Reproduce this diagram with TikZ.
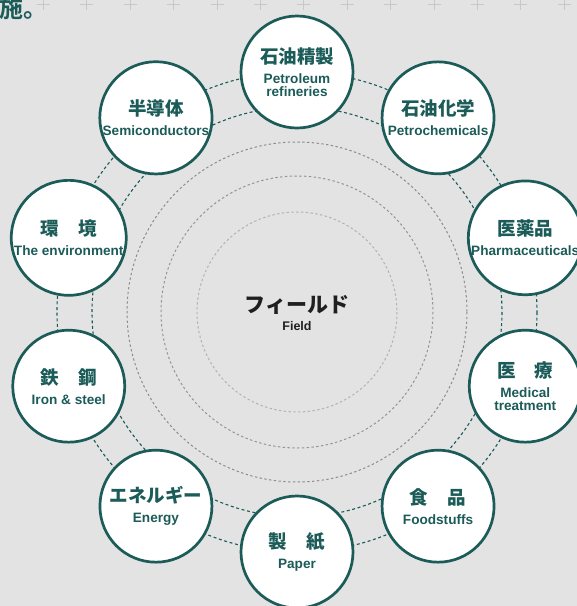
\documentclass[tikz,border=0pt]{standalone}
\usepackage{fontspec}
\usetikzlibrary{calc}
\setmainfont{Liberation Sans}
\newfontfamily\jpfont{Noto Sans CJK JP Bold}
\definecolor{tealc}{HTML}{1B5B58}
\definecolor{bgc}{HTML}{E3E3E3}
\definecolor{plusc}{HTML}{C8C8C8}
\newcommand\nlab[2]{{\jpfont\fontsize{18.5}{19}\selectfont #1}\\[7pt]#2}
\begin{document}
\begin{tikzpicture}[x=1pt,y=-1pt,
  fieldnode/.style={circle, draw=tealc, fill=white, line width=2.7pt,
    minimum size=112pt, inner sep=0pt, align=center, text=tealc,
    font=\bfseries\fontsize{13.6}{13}\selectfont},
  darkring/.style={draw=tealc, line width=1.1pt, dash pattern=on 3pt off 2.6pt},
  grayring/.style={line width=1pt, dash pattern=on 2.4pt off 2.4pt},
  plussign/.style={draw=plusc, line width=0.9pt}]
\useasboundingbox (0,0) rectangle (577,606);
\clip (0,0) rectangle (577,606);
\fill[bgc] (0,0) rectangle (577,606);
% plus marks along the top
\foreach \k in {1,...,13}{
  \draw[plussign] (43.4*\k-6.5,4) -- (43.4*\k+6.5,4);
  \draw[plussign] (43.4*\k,-3) -- (43.4*\k,10);
}
\node[anchor=base west, inner sep=0pt, text=tealc, font=\jpfont\fontsize{24}{24}\selectfont] (top) at (-1,17) {施。};
\coordinate (c) at (297,312);
% rings
\draw[darkring] (c) circle[radius=240];
\draw[darkring] (c) circle[radius=205];
\draw[grayring, draw=black!45] (c) circle[radius=170];
\draw[grayring, draw=black!42] (c) circle[radius=136];
\draw[grayring, draw=black!30] (c) circle[radius=100];
% centre
\node[align=center, text=black!88, font=\bfseries\fontsize{12.5}{13}\selectfont] (field) at (297,313)
  {{\jpfont\fontsize{21}{22}\selectfont フィールド}\\[5pt]Field};
% field nodes (y axis points down, so angles are mirrored)
\node[fieldnode] (petro)  at ($(c)+(-90:240)$)  {\nlab{石油精製}{Petroleum\\refineries}};
\node[fieldnode] (chem)   at ($(c)+(-54:240)$)  {\nlab{石油化学}{Petrochemicals}};
\node[fieldnode] (pharma) at ($(c)+(-18:240)$)  {\nlab{医薬品}{Pharmaceuticals}};
\node[fieldnode] (med)    at ($(c)+(18:240)$)   {\nlab{医\hspace{1.05em}療}{Medical\\treatment}};
\node[fieldnode] (food)   at ($(c)+(54:240)$)   {\nlab{食\hspace{1.05em}品}{Foodstuffs}};
\node[fieldnode] (paper)  at ($(c)+(90:240)$)   {\nlab{製\hspace{1.05em}紙}{Paper}};
\node[fieldnode] (energy) at ($(c)+(126:240)$)  {\nlab{エネルギー}{Energy}};
\node[fieldnode] (steel)  at ($(c)+(162:240)$)  {\nlab{鉄\hspace{1.05em}鋼}{Iron \& steel}};
\node[fieldnode] (env)    at ($(c)+(-162:240)$) {\nlab{環\hspace{1.05em}境}{The environment}};
\node[fieldnode] (semi)   at ($(c)+(-126:240)$) {\nlab{半導体}{Semiconductors}};
\end{tikzpicture}
\end{document}
